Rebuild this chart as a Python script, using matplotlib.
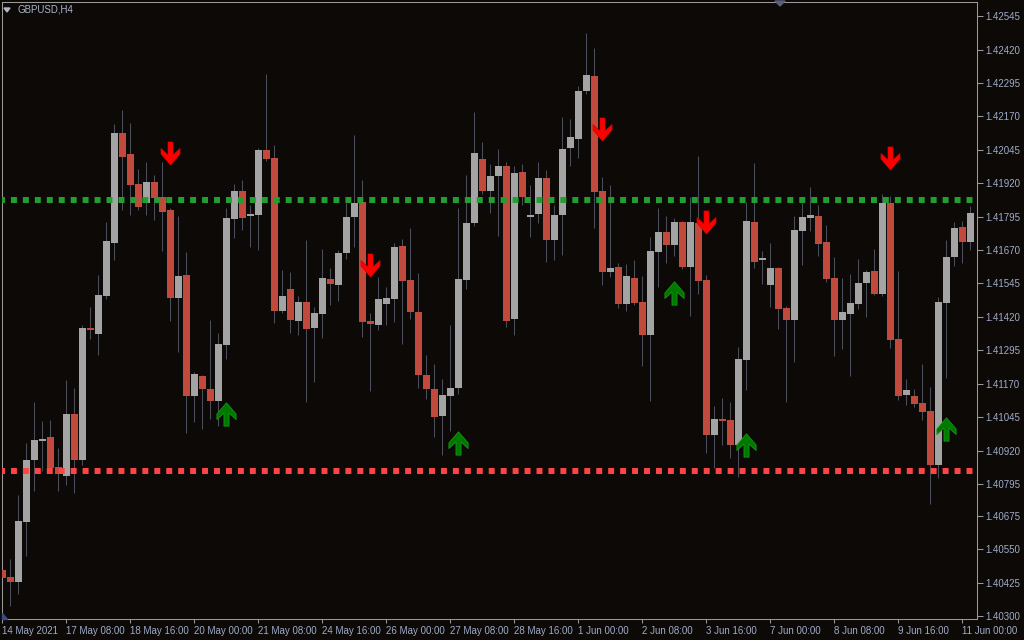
import matplotlib
matplotlib.use("Agg")
import matplotlib.pyplot as plt
import numpy as np
from matplotlib.path import Path
from matplotlib.patches import Polygon

plt.rcParams["font.family"] = ["Liberation Sans", "DejaVu Sans"]

# GBPUSD H4 bars from 14 May 2021 00:00 (6 bars per trading day)
opens = [1.40473, 1.40446, 1.40430, 1.40654, 1.40884, 1.40957, 1.40970, 1.40858, 1.40824, 1.41057,
         1.40884, 1.41378, 1.41356, 1.41497, 1.41696, 1.42108, 1.42029, 1.41916, 1.41847, 1.41924,
         1.41869, 1.41820, 1.41491, 1.41576, 1.41124, 1.41198, 1.41149, 1.41104, 1.41314, 1.41786,
         1.41890, 1.41799, 1.41801, 1.42044, 1.42014, 1.41442, 1.41525, 1.41404, 1.41476, 1.41378,
         1.41431, 1.41561, 1.41540, 1.41659, 1.41794, 1.41850, 1.41404, 1.41390, 1.41468, 1.41487,
         1.41685, 1.41557, 1.41438, 1.41202, 1.41149, 1.41049, 1.41124, 1.41153, 1.41557, 1.41771,
         1.42010, 1.41890, 1.41948, 1.41984, 1.41412, 1.41961, 1.41795, 1.41806, 1.41940, 1.41706,
         1.41802, 1.42050, 1.42086, 1.42266, 1.42320, 1.41890, 1.41589, 1.41606, 1.41468, 1.41566,
         1.41476, 1.41352, 1.41663, 1.41737, 1.41689, 1.41775, 1.41606, 1.41771, 1.41557, 1.40978,
         1.41038, 1.41034, 1.40939, 1.41258, 1.41775, 1.41631, 1.41540, 1.41602, 1.41453, 1.41408,
         1.41741, 1.41790, 1.41797, 1.41700, 1.41566, 1.41408, 1.41431, 1.41468, 1.41546, 1.41591,
         1.41506, 1.41846, 1.41337, 1.41128, 1.41124, 1.41098, 1.41068, 1.40866, 1.41472, 1.41644,
         1.41756, 1.41700]
highs = [1.40525, 1.40514, 1.40754, 1.40948, 1.41102, 1.41030, 1.41034, 1.40929, 1.41183, 1.41153,
         1.41389, 1.41457, 1.41576, 1.41775, 1.42141, 1.42194, 1.42145, 1.41973, 1.41999, 1.41949,
         1.41999, 1.41827, 1.41797, 1.41662, 1.41215, 1.41204, 1.41409, 1.41359, 1.41827, 1.41918,
         1.41933, 1.41839, 1.42051, 1.42328, 1.42063, 1.41595, 1.41587, 1.41497, 1.41707, 1.41457,
         1.41674, 1.41602, 1.41670, 1.41847, 1.42100, 1.41931, 1.41435, 1.41568, 1.41532, 1.41696,
         1.41711, 1.41752, 1.41585, 1.41277, 1.41243, 1.41187, 1.41389, 1.41827, 1.41950, 1.42186,
         1.42074, 1.41991, 1.42048, 1.41999, 1.41983, 1.41991, 1.41914, 1.41999, 1.41969, 1.41840,
         1.42167, 1.42160, 1.42282, 1.42482, 1.42425, 1.41944, 1.41914, 1.41623, 1.41617, 1.41632,
         1.41572, 1.41718, 1.41827, 1.41797, 1.41790, 1.41779, 1.41867, 1.42021, 1.41575, 1.41087,
         1.41117, 1.41102, 1.41307, 1.41851, 1.41995, 1.41666, 1.41696, 1.41606, 1.41459, 1.41797,
         1.41846, 1.41906, 1.41839, 1.41764, 1.41644, 1.41566, 1.41580, 1.41636, 1.41595, 1.41674,
         1.41880, 1.41874, 1.41591, 1.41187, 1.41149, 1.41243, 1.41158, 1.41493, 1.41707, 1.41775,
         1.41779, 1.41835]
lows = [1.40362, 1.40340, 1.40382, 1.40526, 1.40768, 1.40845, 1.40850, 1.40768, 1.40792, 1.40762,
        1.40865, 1.41337, 1.41278, 1.41487, 1.41633, 1.41820, 1.41801, 1.41820, 1.41801, 1.41782,
        1.41667, 1.41405, 1.41289, 1.40986, 1.41027, 1.41001, 1.41038, 1.41012, 1.41262, 1.41715,
        1.41745, 1.41681, 1.41670, 1.42003, 1.41397, 1.41434, 1.41359, 1.41353, 1.41103, 1.41178,
        1.41341, 1.41466, 1.41480, 1.41636, 1.41681, 1.41344, 1.41142, 1.41371, 1.41390, 1.41401,
        1.41318, 1.41412, 1.41153, 1.41113, 1.40970, 1.40905, 1.40993, 1.41133, 1.41525, 1.41761,
        1.41881, 1.41810, 1.41722, 1.41383, 1.41353, 1.41840, 1.41719, 1.41772, 1.41627, 1.41632,
        1.41653, 1.41986, 1.42016, 1.42255, 1.41752, 1.41541, 1.41568, 1.41453, 1.41442, 1.41466,
        1.41238, 1.41106, 1.41532, 1.41621, 1.41647, 1.41600, 1.41423, 1.41507, 1.40911, 1.40856,
        1.40939, 1.40892, 1.40822, 1.41147, 1.41602, 1.41544, 1.41457, 1.41375, 1.41103, 1.41253,
        1.41616, 1.41741, 1.41647, 1.41551, 1.41274, 1.41299, 1.41198, 1.41450, 1.41419, 1.41502,
        1.41497, 1.41303, 1.41109, 1.41091, 1.41083, 1.41034, 1.40721, 1.40819, 1.41192, 1.41610,
        1.41621, 1.41670]
closes = [1.40443, 1.40430, 1.40656, 1.40884, 1.40959, 1.40959, 1.40854, 1.40831, 1.41057, 1.40884,
          1.41378, 1.41371, 1.41502, 1.41704, 1.42108, 1.42018, 1.41914, 1.41831, 1.41924, 1.41865,
          1.41812, 1.41491, 1.41572, 1.41124, 1.41206, 1.41149, 1.41104, 1.41318, 1.41790, 1.41890,
          1.41790, 1.41805, 1.42044, 1.42010, 1.41442, 1.41497, 1.41408, 1.41476, 1.41374, 1.41435,
          1.41565, 1.41542, 1.41659, 1.41794, 1.41846, 1.41401, 1.41394, 1.41487, 1.41491, 1.41681,
          1.41555, 1.41438, 1.41202, 1.41149, 1.41045, 1.41128, 1.41153, 1.41561, 1.41771, 1.42033,
          1.41890, 1.41946, 1.41984, 1.41405, 1.41958, 1.41867, 1.41803, 1.41940, 1.41706, 1.41803,
          1.42048, 1.42093, 1.42265, 1.42324, 1.41888, 1.41589, 1.41602, 1.41468, 1.41572, 1.41472,
          1.41352, 1.41666, 1.41737, 1.41689, 1.41775, 1.41606, 1.41775, 1.41555, 1.40978, 1.41038,
          1.41030, 1.40939, 1.41262, 1.41779, 1.41625, 1.41640, 1.41602, 1.41450, 1.41408, 1.41745,
          1.41794, 1.41801, 1.41692, 1.41561, 1.41408, 1.41438, 1.41472, 1.41546, 1.41587, 1.41506,
          1.41846, 1.41333, 1.41124, 1.41147, 1.41094, 1.41064, 1.40866, 1.41476, 1.41644, 1.41752,
          1.41700, 1.41809]

date_labels = ["14 May 2021", "17 May 08:00", "18 May 16:00", "20 May 00:00", "21 May 08:00",
               "24 May 16:00", "26 May 00:00", "27 May 08:00", "28 May 16:00", "1 Jun 00:00",
               "2 Jun 08:00", "3 Jun 16:00", "7 Jun 00:00", "8 Jun 08:00", "9 Jun 16:00",
               "11 Jun 00:00"]
bars_per_label = 8

price_ticks = [1.42545, 1.42420, 1.42295, 1.42170, 1.42045, 1.41920, 1.41795, 1.41670, 1.41545,
               1.41420, 1.41295, 1.41170, 1.41045, 1.40920, 1.40795, 1.40675, 1.40550, 1.40425,
               1.40300]

resistance = 1.41857
support = 1.40844

sell_bars = [21, 46, 75, 88, 111]
sell_prices = [1.42034, 1.41614, 1.42124, 1.41776, 1.42015]
buy_bars = [28, 57, 84, 93, 118]
buy_prices = [1.41057, 1.40948, 1.41510, 1.40940, 1.41001]

# colours
bg = "#0c0907"
bull = "#a4a4a4"
bear = "#c24a3c"
wick = "#4a4d5c"
txt = "#a0acc8"
frame = "#9a9a9a"

W, H = 1024, 640
fig = plt.figure(figsize=(W / 100, H / 100), dpi=100)
fig.patch.set_facecolor(bg)
ax = fig.add_axes([1.7 / W, 21 / H, 975.3 / W, 617.3 / H])
ax.set_facecolor(bg)

o = np.array(opens)
h = np.array(highs)
l = np.array(lows)
c = np.array(closes)
x = np.arange(len(o))
up = c >= o

ax.vlines(x, l, h, color=wick, lw=0.75, zorder=2)
lo = np.minimum(o, c)
hgt = np.maximum(np.abs(c - o), 0.00005)
ax.bar(x[up], hgt[up], bottom=lo[up], width=0.86, color=bull, lw=0, zorder=3)
ax.bar(x[~up], hgt[~up], bottom=lo[~up], width=0.86, color=bear, lw=0, zorder=3)

# support / resistance dotted lines
ax.axhline(resistance, color="#20a030", lw=4.3, linestyle=(0.5, (1, 1)),
           dash_capstyle="butt", zorder=4)
ax.axhline(support, color="#ff4444", lw=4.3, linestyle=(0.5, (1, 1)),
           dash_capstyle="butt", zorder=4)

# arrow markers (Wingdings-like thick arrows)
pts = [(-2.5, 0), (2.5, 0), (2.5, 13), (9.5, 6.5), (9.5, 12), (0, 23),
       (-9.5, 12), (-9.5, 6.5), (-2.5, 13), (-2.5, 0)]
down = Path([(px, 11.5 - py) for px, py in pts], closed=True)
upar = Path([(px, py - 11.5) for px, py in pts], closed=True)
ax.scatter(sell_bars, sell_prices, marker=down, s=275, facecolor="#ff0000",
           edgecolor="#d80000", linewidths=0.5, zorder=6)
ax.scatter(buy_bars, buy_prices, marker=upar, s=280, facecolor="#007800",
           edgecolor="#139a13", linewidths=0.6, zorder=6)

ax.set_xlim(-0.075, 121.84)
ax.set_ylim(1.40290, 1.42599)

ax.yaxis.tick_right()
ax.set_yticks(price_ticks)
ax.set_yticklabels([f"{p:.5f}" for p in price_ticks])
ax.set_xticks(np.arange(0, len(date_labels) * bars_per_label, bars_per_label))
ax.set_xticklabels(date_labels)
for lbl in ax.get_xticklabels():
    lbl.set_ha("left")
ax.tick_params(axis="y", direction="out", length=4, width=0.75, color=frame,
               labelcolor=txt, labelsize=7, pad=2)
ax.tick_params(axis="x", direction="out", length=3, width=0.75, color=frame,
               labelcolor=txt, labelsize=7, pad=2)
for sp in ax.spines.values():
    sp.set_color(frame)
    sp.set_linewidth(0.75)

# header and little MT4 markers
fig.text(17 / W, 1 - 10 / H, "GBPUSD,H4", color="#aab4cc", fontsize=7,
         ha="left", va="center")
fig.patches.append(Polygon([(4 / W, 1 - 8 / H), (10 / W, 1 - 8 / H), (7 / W, 1 - 12 / H)],
                           closed=True, color="#b0b8c8", transform=fig.transFigure))
fig.patches.append(Polygon([(775 / W, 1 - 1 / H), (785 / W, 1 - 1 / H), (780 / W, 1 - 6 / H)],
                           closed=True, color="#5a607a", transform=fig.transFigure))
fig.patches.append(Polygon([(2 / W, 1 - 613 / H), (2 / W, 1 - 619 / H), (7 / W, 1 - 619 / H)],
                           closed=True, color="#3b4a8c", transform=fig.transFigure))

fig.savefig("out.png", dpi=100, facecolor=bg)
